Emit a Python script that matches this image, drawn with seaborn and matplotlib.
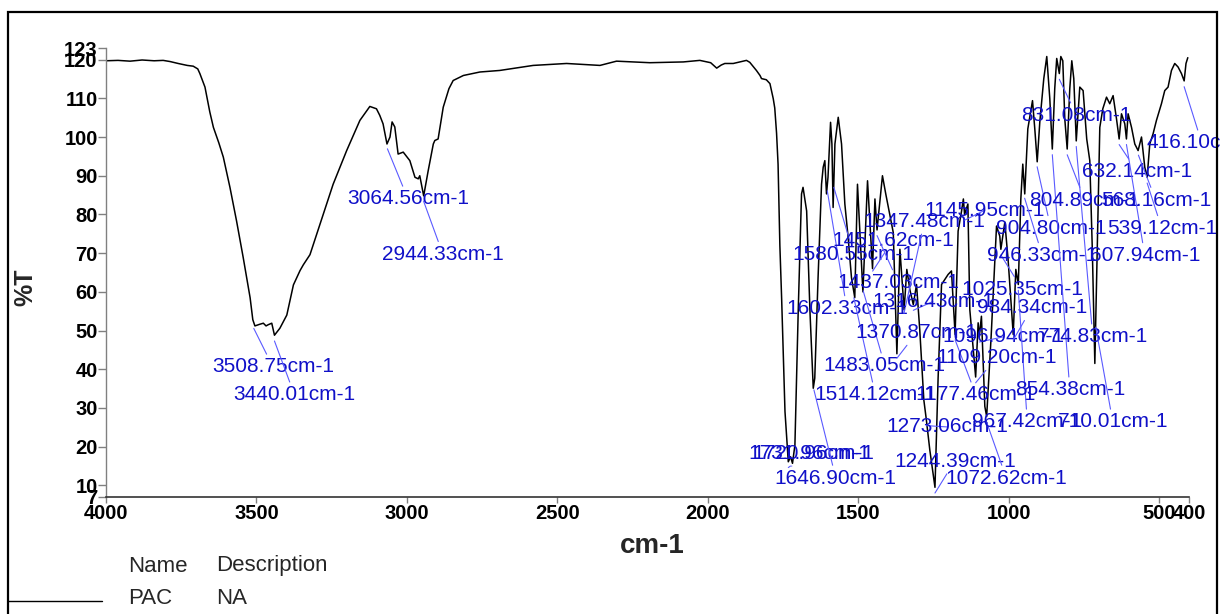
import numpy as np
import pandas as pd
import matplotlib
matplotlib.use("Agg")
import matplotlib.pyplot as plt
import seaborn as sns
from matplotlib.lines import Line2D
from matplotlib.patches import Rectangle

# ---------------- data ----------------
wavenumber = [
    4000, 3960, 3920, 3880, 3840, 3810, 3787, 3760, 3730, 3710, 3695, 3688, 3671, 3655, 3643,
    3625, 3610, 3588, 3566, 3544, 3521, 3512, 3505, 3490, 3477, 3468, 3461, 3449, 3440, 3422,
    3399, 3377, 3355, 3344, 3322, 3289, 3245, 3200, 3156, 3123, 3101, 3090, 3079, 3066, 3056,
    3049, 3040, 3029, 3012, 2990, 2973, 2962, 2957, 2944, 2929, 2912, 2907, 2896, 2879, 2860,
    2846, 2812, 2757, 2691, 2580, 2469, 2358, 2303, 2192, 2081, 2026, 1990, 1970, 1955, 1943,
    1915, 1871, 1860, 1838, 1826, 1821, 1805, 1793, 1782, 1777, 1771, 1766, 1760, 1754, 1743,
    1732, 1724.5, 1718, 1710, 1699, 1688, 1683, 1671, 1660, 1649, 1644, 1633, 1621.5, 1616,
    1610.5, 1605, 1600, 1591.5, 1587, 1583, 1577, 1566, 1555, 1544, 1533, 1522, 1511, 1502,
    1484, 1468.6, 1452, 1444, 1437, 1419, 1408, 1383, 1371, 1361, 1347, 1338, 1328, 1316.5,
    1305.7, 1295, 1281.5, 1273, 1261.5, 1244.4, 1234, 1222.6, 1200.7, 1189.6, 1177.5, 1167.5,
    1156, 1150, 1146, 1135, 1128.6, 1109.2, 1100.9, 1097, 1090, 1078.7, 1072.6, 1057.7, 1039.8,
    1029, 1025.4, 1012.2, 1001.4, 984.3, 975.7, 967.4, 959, 952.5, 946, 935.8, 920.2, 912.6,
    904.6, 896, 882.7, 872.8, 862.7, 854.4, 846.3, 839.7, 831.1, 826.1, 819.5, 812.9, 804.9,
    796.3, 789.6, 783, 774.8, 763, 752, 740, 729.8, 721.4, 713, 704.9, 696.5, 686.5, 674.2,
    663.4, 652.3, 641, 632.2, 624.4, 613.4, 608, 602.4, 591.1, 580.2, 569.2, 557.9, 547, 539.1,
    530.4, 519.5, 508.2, 491.6, 480.6, 469.6, 458.3, 447.4, 436.4, 425.1, 416.1, 410, 404,
]
transmittance = [
    119.7, 119.8, 119.6, 119.9, 119.7, 119.8, 119.5, 119.0, 118.5, 118.3, 117.6, 116.4, 112.9, 106.5, 102.5,
    98.5, 94.8, 87.0, 78.3, 68.9, 58.5, 52.8, 51.2, 51.6, 51.9, 51.2, 51.5, 51.9, 48.8, 50.6,
    54.0, 61.8, 65.5, 67.0, 69.6, 77.4, 87.8, 96.5, 104.3, 107.9, 107.3, 105.6, 103.4, 98.2, 100.0,
    103.9, 102.6, 95.6, 96.1, 93.9, 89.6, 89.2, 90.0, 84.8, 91.3, 98.2, 99.1, 99.5, 107.7, 112.5,
    114.6, 115.9, 116.8, 117.2, 118.5, 119.0, 118.5, 119.6, 119.2, 119.4, 119.8, 119.2, 117.8, 118.6, 119.0,
    119.0, 119.8, 119.3, 117.2, 115.9, 115.1, 114.8, 113.8, 109.9, 107.5, 101.0, 93.0, 72.0, 58.0, 29.1,
    16.1, 17.4, 15.7, 20.4, 55.0, 85.3, 87.0, 80.9, 55.0, 35.1, 37.7, 63.7, 87.8, 92.2,
    93.9, 85.3, 89.6, 103.8, 98.2, 81.8, 98.2, 105.1, 98.2, 82.7, 74.0, 63.7, 58.5, 87.8,
    60.0, 88.7, 66.0, 84.0, 76.0, 90.0, 85.3, 75.3, 44.0, 71.0, 55.4, 65.8, 60.6, 56.7,
    61.9, 50.2, 32.1, 26.9, 19.1, 9.5, 37.7, 61.9, 64.5, 65.4, 49.0, 75.7,
    80.9, 84.0, 80.0, 82.7, 55.4, 38.0, 52.0, 48.5, 53.7, 30.4, 27.8, 48.5, 77.0,
    74.4, 71.0, 78.0, 68.4, 49.0, 65.8, 61.9, 84.0, 93.0, 85.3, 102.1, 109.4, 102.1,
    93.6, 103.8, 115.1, 120.8, 109.9, 96.9, 112.5, 120.3, 116.4, 120.8, 119.7, 104.7, 96.9,
    112.5, 119.7, 115.1, 99.0, 112.9, 112.0, 99.5, 93.9, 71.0, 41.5, 71.0, 102.5, 107.3, 110.3,
    108.6, 110.7, 104.7, 99.5, 106.0, 103.4, 99.5, 106.0, 102.5, 98.2, 96.5, 100.0, 92.2, 89.6,
    98.2, 100.8, 104.3, 108.6, 112.0, 112.9, 117.2, 119.0, 118.1, 116.4, 114.5, 119.0, 120.5,
]

peak_wavenumbers = [
    3508.75, 3440.01, 3064.56, 2944.33, 1731.96, 1720.96, 1646.90, 1602.33, 1580.55,
    1514.12, 1483.05, 1451.62, 1437.03, 1370.87, 1347.48, 1316.43, 1273.06, 1244.39,
    1177.46, 1145.95, 1109.20, 1096.94, 1072.62, 1025.35, 984.34, 967.42, 946.33,
    904.80, 854.38, 831.08, 804.89, 774.83, 710.01, 632.14, 607.94, 568.16, 539.12, 416.10,
]
# label text positions (x in cm-1, y in %T)
label_x = [
    3445, 3373.5, 2996.3, 2880, 1663.6, 1650.3, 1574, 1537.4, 1514,
    1442.6, 1411, 1384.5, 1366.2, 1304.7, 1279.8, 1251.5, 1203.4, 1178.4,
    1108.6, 1078.7, 1040.5, 1015.6, 1007.3, 954.1, 922.5, 937.5, 887.6,
    859.4, 796.2, 773, 746.4, 719.8, 653.3, 572, 547, 510.4, 490.5, 357.6,
]
label_y = [
    40.6, 33.4, 84.0, 69.7, 18.3, 18.3, 11.9, 55.7, 69.7,
    33.4, 40.9, 73.3, 62.4, 49.5, 78.2, 57.5, 25.1, 16.3,
    33.4, 81.1, 43.0, 48.4, 11.9, 60.6, 55.9, 26.4, 69.4,
    76.4, 34.7, 105.5, 83.7, 48.4, 26.4, 91.0, 69.4, 83.7, 76.4, 98.5,
]

x_ticks = [4000, 3500, 3000, 2500, 2000, 1500, 1000, 500, 400]
y_ticks = [7, 10, 20, 30, 40, 50, 60, 70, 80, 90, 100, 110, 120, 123]
x_title = "cm-1"
y_title = "%T"
legend_header = ["Name", "Description"]
legend_row = ["PAC", "NA"]

# ---------------- figure ----------------
sns.set_theme(style="ticks")
plt.rcParams["font.family"] = ["Liberation Sans", "DejaVu Sans"]

W, H = 1220, 614
fig = plt.figure(figsize=(W / 100, H / 100), dpi=100)
ax = fig.add_axes([106 / W, 1 - 497 / H, (1189 - 106) / W, 449 / H])

df = pd.DataFrame({"wavenumber": wavenumber, "T": transmittance})
sns.lineplot(data=df, x="wavenumber", y="T", sort=False, estimator=None,
             color="black", linewidth=1.1, ax=ax)

ax.set_xlim(4000, 400)
ax.set_ylim(7, 123)
ax.set_xticks(x_ticks, labels=[str(t) for t in x_ticks], fontweight="bold", fontsize=14.5)
ax.set_yticks(y_ticks, labels=[str(t) for t in y_ticks], fontweight="bold", fontsize=14.5)
ax.tick_params(axis="y", direction="out", length=5.5, width=1, color="#808080", pad=0.5, labelcolor="black")
ax.tick_params(axis="x", direction="out", length=4, width=1, color="#808080", pad=1.0, labelcolor="black")
for s in ("top", "right"):
    ax.spines[s].set_visible(False)
ax.spines["left"].set_color("#808080")
ax.spines["left"].set_linewidth(1.0)
ax.spines["bottom"].set_color("#333333")
ax.spines["bottom"].set_linewidth(1.2)

ax.set_xlabel(x_title, fontsize=20, fontweight="bold")
ax.xaxis.set_label_coords(0.504, -0.080)
ax.set_ylabel(y_title, fontsize=18, fontweight="bold")
ax.yaxis.set_label_coords(-0.063, 0.468)

wn_rev = np.array(wavenumber)[::-1]
t_rev = np.array(transmittance)[::-1]
for wn, tx, ty in zip(peak_wavenumbers, label_x, label_y):
    t_curve = float(np.interp(wn, wn_rev, t_rev))
    ax.annotate(f"{wn:.2f}cm-1", xy=(wn, t_curve - 1.5), xytext=(tx, ty),
                textcoords="data", ha="center", va="center", fontsize=15,
                color="#1010c8",
                arrowprops=dict(arrowstyle="-", color="#5a5aff", lw=0.8,
                                shrinkA=0, shrinkB=0),
                annotation_clip=False)

# outer frame
fig.add_artist(Rectangle((8 / W, -0.05), (1217 - 8) / W, 1 - 12 / H + 0.05,
                         transform=fig.transFigure, fill=False, lw=1.6,
                         ec="black", clip_on=False))

# legend table
fig.text(128 / W, 1 - 566 / H, legend_header[0], fontsize=16, va="center", ha="left")
fig.text(216 / W, 1 - 566 / H, legend_header[1], fontsize=16, va="center", ha="left")
fig.text(128 / W, 1 - 599 / H, legend_row[0], fontsize=16, va="center", ha="left")
fig.text(216 / W, 1 - 599 / H, legend_row[1], fontsize=16, va="center", ha="left")
fig.add_artist(Line2D([8 / W, 102 / W], [1 - 601 / H, 1 - 601 / H],
                      transform=fig.transFigure, color="black", lw=1.0))

fig.savefig("out.png", dpi=100)
